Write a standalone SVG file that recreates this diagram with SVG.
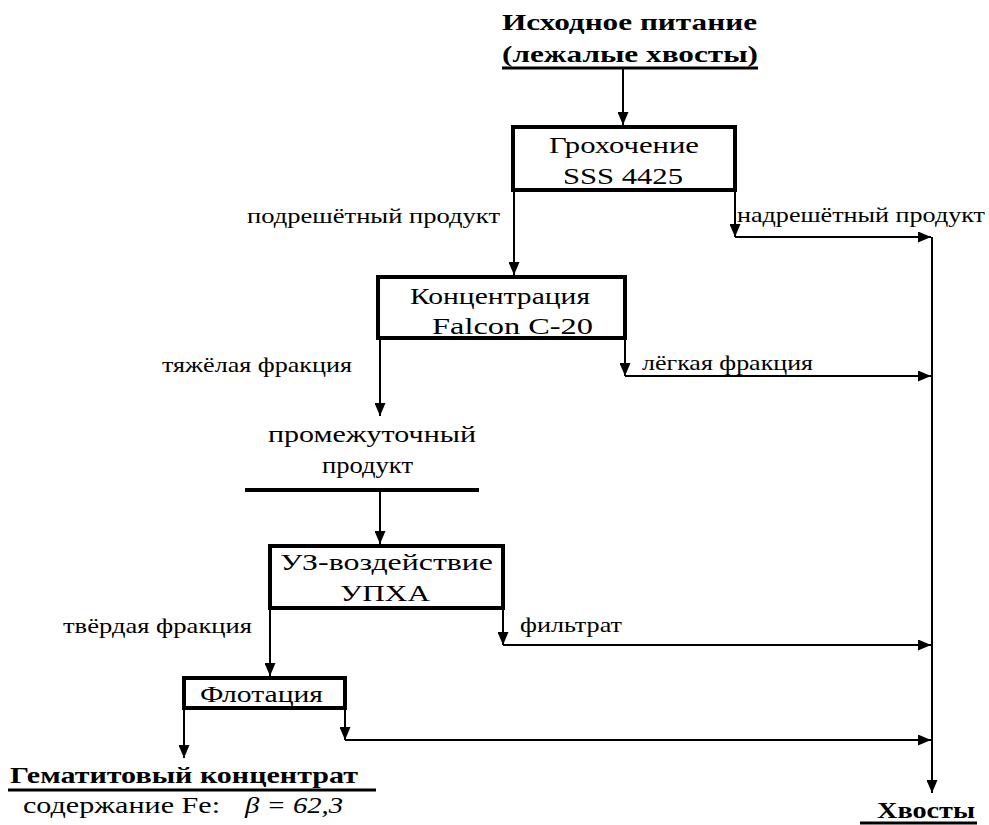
<svg xmlns="http://www.w3.org/2000/svg" width="989" height="825" viewBox="0 0 989 825">
<defs>
<marker id="ah" markerWidth="13" markerHeight="11" refX="13" refY="5.5" orient="auto" markerUnits="userSpaceOnUse">
<path d="M0,0 L13,5.5 L0,11 Z" fill="#000"/>
</marker>
<style>
.box{fill:#fff;stroke:#000;stroke-width:4}
.ln{fill:none;stroke:#000;stroke-width:2}
text{fill:#000}
.nt{font-size:24px}
.lb{font-size:21px}
.hd{font-size:24px;font-weight:bold}
</style>
</defs>
<rect width="989" height="825" fill="#fff"/>

<g id="feed" font-family="'Liberation Serif', 'DejaVu Serif', serif">
<text class="hd" x="502" y="30" textLength="255" lengthAdjust="spacingAndGlyphs">Исходное питание</text>
<text class="hd" x="502" y="62" textLength="256" lengthAdjust="spacingAndGlyphs">(лежалые хвосты)</text>
<line x1="502" y1="68" x2="758" y2="68" stroke="#000" stroke-width="3"/>
</g>

<g id="connectors">
<line class="ln" x1="623" y1="69" x2="623" y2="125" marker-end="url(#ah)"/>
<line class="ln" x1="514" y1="190" x2="514" y2="275" marker-end="url(#ah)"/>
<line class="ln" x1="735" y1="190" x2="735" y2="237" marker-end="url(#ah)"/>
<line class="ln" x1="735" y1="237" x2="931" y2="237" marker-end="url(#ah)"/>
<line class="ln" x1="932" y1="237" x2="932" y2="793" marker-end="url(#ah)"/>
<line class="ln" x1="625" y1="338" x2="625" y2="376" marker-end="url(#ah)"/>
<line class="ln" x1="625" y1="376" x2="931" y2="376" marker-end="url(#ah)"/>
<line class="ln" x1="380" y1="338" x2="380" y2="416" marker-end="url(#ah)"/>
<line class="ln" x1="380" y1="491" x2="380" y2="544" marker-end="url(#ah)"/>
<line class="ln" x1="503" y1="608" x2="503" y2="645" marker-end="url(#ah)"/>
<line class="ln" x1="503" y1="645" x2="931" y2="645" marker-end="url(#ah)"/>
<line class="ln" x1="270" y1="608" x2="270" y2="676" marker-end="url(#ah)"/>
<line class="ln" x1="184" y1="708" x2="184" y2="758" marker-end="url(#ah)"/>
<line class="ln" x1="345" y1="708" x2="345" y2="740" marker-end="url(#ah)"/>
<line class="ln" x1="345" y1="740" x2="931" y2="740" marker-end="url(#ah)"/>
</g>

<g id="screening" font-family="'Liberation Serif', 'DejaVu Serif', serif">
<rect class="box" x="513" y="127" width="222" height="63"/>
<text class="nt" x="549" y="153" textLength="150" lengthAdjust="spacingAndGlyphs">Грохочение</text>
<text class="nt" x="563" y="184" textLength="120" lengthAdjust="spacingAndGlyphs">SSS 4425</text>
</g>

<g id="labels" font-family="'Liberation Serif', 'DejaVu Serif', serif">
<text class="lb" x="247" y="223" textLength="253" lengthAdjust="spacingAndGlyphs">подрешётный продукт</text>
<text class="lb" x="737" y="222" textLength="248" lengthAdjust="spacingAndGlyphs">надрешётный продукт</text>
<text class="lb" x="162" y="372" textLength="190" lengthAdjust="spacingAndGlyphs">тяжёлая фракция</text>
<text class="lb" x="642" y="370" textLength="171" lengthAdjust="spacingAndGlyphs">лёгкая фракция</text>
<text class="lb" x="63" y="633" textLength="189" lengthAdjust="spacingAndGlyphs">твёрдая фракция</text>
<text class="lb" x="520" y="632" textLength="102" lengthAdjust="spacingAndGlyphs">фильтрат</text>
</g>

<g id="falcon" font-family="'Liberation Serif', 'DejaVu Serif', serif">
<rect class="box" x="378" y="277" width="247" height="61"/>
<text class="nt" x="410" y="304" textLength="180" lengthAdjust="spacingAndGlyphs">Концентрация</text>
<text class="nt" x="432" y="334" textLength="161" lengthAdjust="spacingAndGlyphs">Falcon C-20</text>
</g>

<g id="middlings" font-family="'Liberation Serif', 'DejaVu Serif', serif">
<text class="nt" x="268" y="442" textLength="208" lengthAdjust="spacingAndGlyphs">промежуточный</text>
<text class="nt" x="322" y="473" textLength="91" lengthAdjust="spacingAndGlyphs">продукт</text>
<line x1="245" y1="490" x2="479" y2="490" stroke="#000" stroke-width="4"/>
</g>

<g id="ultrasound" font-family="'Liberation Serif', 'DejaVu Serif', serif">
<rect class="box" x="270" y="546" width="233" height="62"/>
<text class="nt" x="280" y="570" textLength="213" lengthAdjust="spacingAndGlyphs">УЗ-воздействие</text>
<text class="nt" x="340" y="601" textLength="90" lengthAdjust="spacingAndGlyphs">УПХА</text>
</g>

<g id="flotation" font-family="'Liberation Serif', 'DejaVu Serif', serif">
<rect class="box" x="184" y="678" width="161" height="30"/>
<text class="nt" x="200" y="702" textLength="123" lengthAdjust="spacingAndGlyphs">Флотация</text>
</g>

<g id="concentrate" font-family="'Liberation Serif', 'DejaVu Serif', serif">
<text class="hd" x="10" y="783" textLength="348" lengthAdjust="spacingAndGlyphs">Гематитовый концентрат</text>
<line x1="8" y1="790" x2="376" y2="790" stroke="#000" stroke-width="3"/>
<text x="23" y="813" font-size="23" textLength="197" lengthAdjust="spacingAndGlyphs">содержание Fe:</text>
<text x="245" y="813" font-size="23" font-style="italic" textLength="98" lengthAdjust="spacingAndGlyphs">β = 62,3</text>
</g>

<g id="tailings" font-family="'Liberation Serif', 'DejaVu Serif', serif">
<text class="hd" x="877" y="818" textLength="98" lengthAdjust="spacingAndGlyphs">Хвосты</text>
<line x1="860" y1="823" x2="977" y2="823" stroke="#000" stroke-width="3"/>
</g>
</svg>
